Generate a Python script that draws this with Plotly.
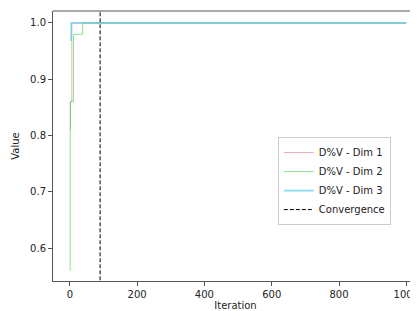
import plotly.graph_objects as go

# Change points of each step series (iteration, value)
dim1_iter = [0, 1, 6, 1000]
dim1_val = [0.81, 0.86, 1.0, 1.0]
dim2_iter = [0, 1, 2, 11, 38, 1000]
dim2_val = [0.56, 0.81, 0.86, 0.98, 1.0, 1.0]
dim3_iter = [0, 4, 1000]
dim3_val = [0.97, 1.0, 1.0]
convergence_iter = 90
series_names = ["D%V - Dim 1", "D%V - Dim 2", "D%V - Dim 3"]
x_ticks = [0, 200, 400, 600, 800, 1000]
y_ticks = [0.6, 0.7, 0.8, 0.9, 1.0]

font = "DejaVu Sans"
fig = go.Figure()
fig.add_trace(go.Scatter(x=dim1_iter, y=dim1_val, mode="lines", line_shape="hv",
                         name=series_names[0],
                         line=dict(color="rgba(219,112,147,0.6)", width=1)))
fig.add_trace(go.Scatter(x=dim2_iter, y=dim2_val, mode="lines", line_shape="hv",
                         name=series_names[1],
                         line=dict(color="rgba(60,210,60,0.6)", width=1)))
fig.add_trace(go.Scatter(x=dim3_iter, y=dim3_val, mode="lines", line_shape="hv",
                         name=series_names[2],
                         line=dict(color="rgba(70,205,240,0.65)", width=1.6)))
fig.add_trace(go.Scatter(x=[convergence_iter, convergence_iter], y=[0.5, 1.1],
                         mode="lines", name="Convergence",
                         line=dict(color="black", width=1, dash="4px,2px")))

axis_common = dict(showline=True, linecolor="#555", linewidth=1, ticks="outside",
                   ticklen=4, tickwidth=1, tickcolor="#555", showgrid=False,
                   zeroline=False, automargin=False, ticklabeloverflow="allow",
                   tickfont=dict(family=font, size=10, color="#222"))
# The page body has an 8px default margin, so the figure is sized to fit the window.
fig.update_layout(
    width=410, height=303,
    margin=dict(l=45, r=0, t=3, b=30),
    paper_bgcolor="white", plot_bgcolor="white",
    font=dict(family=font, size=10, color="#222"),
    xaxis=dict(range=[-50, 1034.7], tickvals=x_ticks, ticktext=[str(v) for v in x_ticks],
               title=dict(text="Iteration", font=dict(family=font, size=10), standoff=2),
               **axis_common),
    yaxis=dict(range=[0.5414, 1.0213], tickvals=y_ticks, ticktext=[f"{v:.1f}" for v in y_ticks],
               title=dict(text="Value", font=dict(family=font, size=10), standoff=8),
               **axis_common),
    legend=dict(x=0.616, y=0.533, xanchor="left", yanchor="top",
                bgcolor="rgba(255,255,255,0.8)", bordercolor="#ccc", borderwidth=1,
                font=dict(family=font, size=10, color="#222"),
                itemwidth=30, tracegroupgap=0),
    showlegend=True,
)
# top spine
fig.add_shape(type="line", xref="paper", yref="paper", x0=0, x1=1, y0=1, y1=1,
              line=dict(color="#555", width=1))
fig.write_html("out.html")
